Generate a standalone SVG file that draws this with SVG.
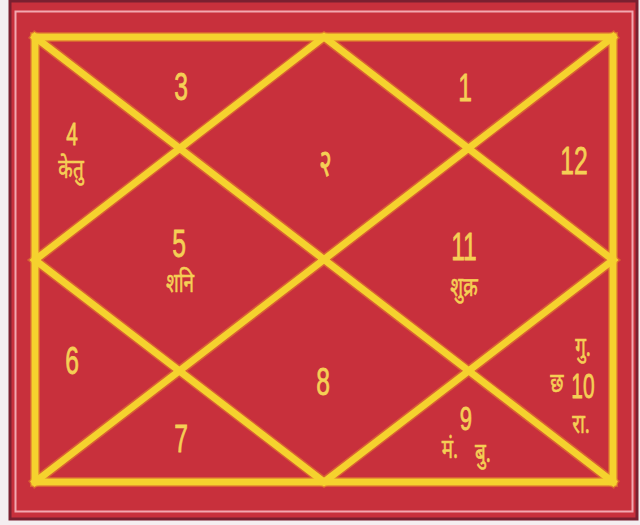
<svg xmlns="http://www.w3.org/2000/svg" width="640" height="525" viewBox="0 0 640 525">
<defs>
<style>
.frame{fill:none;stroke:#f5d22e;stroke-width:7;stroke-linecap:square}
.frameEdge{fill:none;stroke:#e8902a;stroke-width:10;stroke-linecap:square;opacity:0.5}
.num{font-family:"Liberation Sans",sans-serif;font-size:38px;fill:#f5cf55;stroke:#f5cf55;stroke-width:0.8;text-anchor:middle}
.hin{font-family:"Noto Sans Devanagari","Lohit Devanagari","Noto Sans",sans-serif;font-size:27px;fill:#f5cf55;stroke:#f5cf55;stroke-width:0.6;text-anchor:middle}
</style>
</defs>
<rect x="0" y="0" width="640" height="525" fill="#f4eef0"/>
<rect x="10" y="1" width="627" height="518" fill="#c8303c" stroke="#7a2030" stroke-width="3"/>
<rect x="15.5" y="11.5" width="617" height="500" fill="none" stroke="#f2a8b0" stroke-width="2"/>
<g id="connectors">
<rect class="frameEdge" x="35" y="37" width="578" height="445"/>
<path class="frameEdge" d="M35 37 L613 482 M613 37 L35 482 M324 37 L613 260 L324 482 L35 260 Z"/>
<rect class="frame" x="35" y="37" width="578" height="445"/>
<path class="frame" d="M35 37 L613 482 M613 37 L35 482 M324 37 L613 260 L324 482 L35 260 Z"/>
</g>
<g id="house1"><text class="num" transform="translate(465,101) scale(0.65,1)">1</text></g>
<g id="house2"><text class="num" transform="translate(326,176) scale(0.65,1)">२</text></g>
<g id="house3"><text class="num" transform="translate(181,100) scale(0.65,1)">3</text></g>
<g id="house4"><text class="num" transform="translate(72,145) scale(0.65,1)" style="font-size:32px">4</text><text class="hin" transform="translate(71,178) scale(0.7,1)">केतु</text></g>
<g id="house5"><text class="num" transform="translate(179,257) scale(0.65,1)">5</text><text class="hin" transform="translate(180,292) scale(0.7,1)">शनि</text></g>
<g id="house6"><text class="num" transform="translate(72,374) scale(0.65,1)">6</text></g>
<g id="house7"><text class="num" transform="translate(181,452) scale(0.65,1)">7</text></g>
<g id="house8"><text class="num" transform="translate(323,395) scale(0.65,1)">8</text></g>
<g id="house9"><text class="num" transform="translate(466,430) scale(0.65,1)" style="font-size:34px">9</text><text class="hin" transform="translate(450,458) scale(0.7,1)">मं.</text><text class="hin" transform="translate(483,462) scale(0.7,1)">बु.</text></g>
<g id="house10"><text class="hin" transform="translate(583,356) scale(0.7,1)">गु.</text><text class="hin" transform="translate(557,392) scale(0.7,1)">छ</text><text class="num" transform="translate(583,398) scale(0.6,1)" style="font-size:35px">10</text><text class="hin" transform="translate(581,433) scale(0.7,1)">रा.</text></g>
<g id="house11"><text class="num" transform="translate(464,260) scale(0.65,1)">11</text><text class="hin" transform="translate(464,296) scale(0.7,1)">शुक्र</text></g>
<g id="house12"><text class="num" transform="translate(574,174) scale(0.65,1)">12</text></g>
</svg>
